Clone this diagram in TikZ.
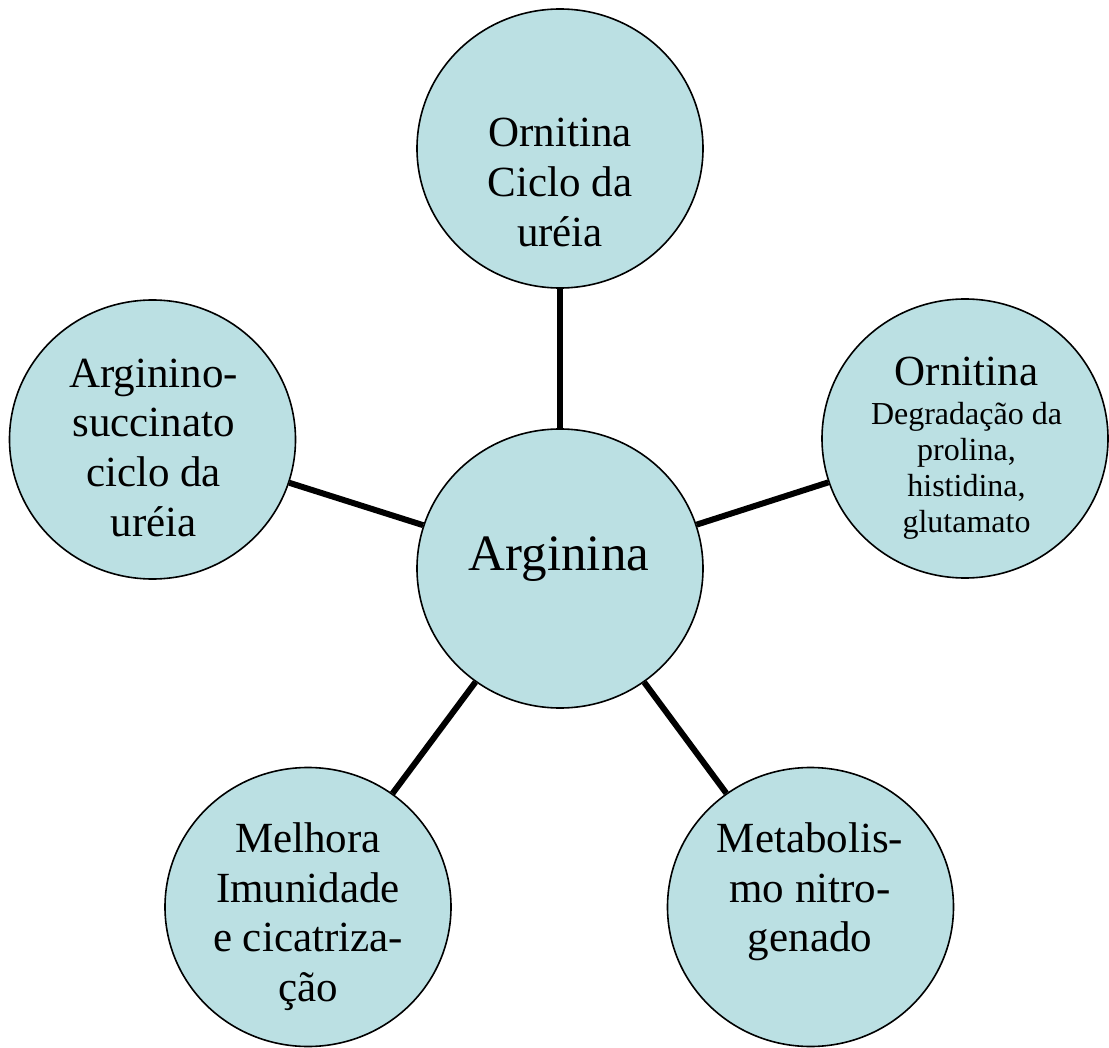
\documentclass[tikz,border=0pt]{standalone}
\usepackage{fontspec}
\setmainfont{Liberation Serif}
\usetikzlibrary{shapes.geometric}
\definecolor{bubblefill}{RGB}{187,224,227}

\begin{document}
\begin{tikzpicture}[x=0.5pt,y=-0.5pt,
	bubble/.style={ellipse,draw=black,line width=0.8pt,fill=bubblefill,minimum width=143pt,minimum height=139.5pt,inner sep=0pt},
	link/.style={line width=3pt},
	bigtext/.style={anchor=north,inner sep=0pt,align=center,font=\fontsize{21.5}{24.9}\selectfont},
	smalltext/.style={anchor=north,inner sep=0pt,align=center,font=\fontsize{16}{18}\selectfont}]
	\useasboundingbox (0,0) rectangle (1109,1048);
	\node[bubble] (arg) at (560,568.5) {};
	\node[bubble] (orn1) at (560,148.5) {};
	\node[bubble] (orn2) at (965,438.5) {};
	\node[bubble] (argsuc) at (152.5,439.5) {};
	\node[bubble] (imun) at (308,907) {};
	\node[bubble] (metab) at (810.5,907) {};
	\draw[link] (arg) -- (orn1);
	\draw[link] (arg) -- (orn2);
	\draw[link] (arg) -- (argsuc);
	\draw[link] (arg) -- (imun);
	\draw[link] (arg) -- (metab);
	\node[bigtext,font=\fontsize{25.5}{30}\selectfont] (argtxt) at (559,536) {Arginina};
	\node[bigtext] (orn1txt) at (560,118) {Ornitina\\Ciclo da\\uréia};
	\node[smalltext] (orn2txt) at (966.5,356.7) {{\fontsize{21.5}{24.9}\selectfont Ornitina}\\[1.7pt]Degradação da\\prolina,\\histidina,\\glutamato};
	\node[bigtext] (argsuctxt) at (153.5,358.3) {Arginino-\\succinato\\ciclo da\\uréia};
	\node[bigtext] (imuntxt) at (308,822) {Melhora\\Imunidade\\e cicatriza-\\ção};
	\node[bigtext] (metabtxt) at (810,822) {Metabolis-\\mo nitro-\\genado};
\end{tikzpicture}
\end{document}
